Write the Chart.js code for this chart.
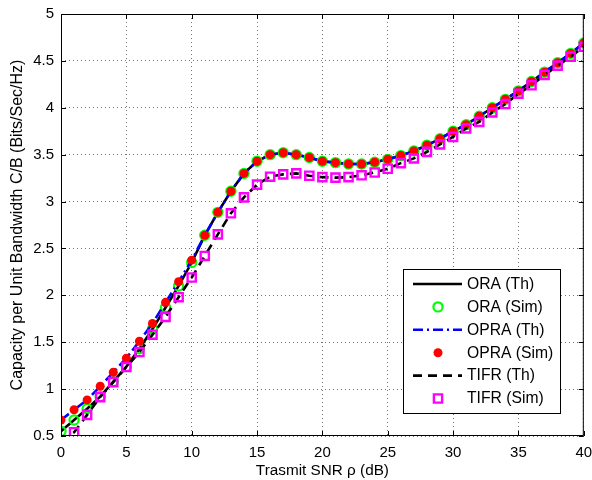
<!DOCTYPE html>
<html>
<head>
<meta charset="utf-8">
<script src="https://cdn.jsdelivr.net/npm/chart.js@4/dist/chart.umd.min.js"></script>
<style>
  html, body { margin: 0; padding: 0; background: #fff; }
  #wrap { width: 592px; height: 480px; }
</style>
</head>
<body>
<div id="wrap"><canvas id="chart" width="592" height="480"></canvas></div>
<script>
// transmit SNR (dB)
const snr = [0, 1, 2, 3, 4, 5, 6, 7, 8, 9, 10, 11, 12, 13, 14, 15, 16, 17, 18, 19, 20,
             21, 22, 23, 24, 25, 26, 27, 28, 29, 30, 31, 32, 33, 34, 35, 36, 37, 38, 39, 40];

// capacity values
const oraSim = [0.55, 0.67, 0.79, 0.92, 1.08, 1.24, 1.43, 1.64, 1.87, 2.10, 2.35,
                2.64, 2.885, 3.11, 3.30, 3.43, 3.50, 3.52, 3.50, 3.47, 3.43,
                3.415, 3.40, 3.40, 3.42, 3.45, 3.49, 3.54, 3.60, 3.67, 3.75,
                3.82, 3.91, 4.00, 4.09, 4.18, 4.28, 4.38, 4.48, 4.58, 4.69];
const opraSim = [0.67, 0.78, 0.885, 1.03, 1.18, 1.33, 1.51, 1.70, 1.925, 2.145, 2.375,
                 2.64, 2.885, 3.11, 3.30, 3.43, 3.50, 3.52, 3.50, 3.47, 3.43,
                 3.415, 3.40, 3.40, 3.42, 3.45, 3.49, 3.54, 3.60, 3.67, 3.75,
                 3.82, 3.91, 4.00, 4.09, 4.18, 4.28, 4.38, 4.48, 4.58, 4.69];
const tifrSim = [0.44, 0.54, 0.725, 0.915, 1.075, 1.235, 1.395, 1.58, 1.77, 1.98, 2.19,
                 2.42, 2.65, 2.875, 3.045, 3.18, 3.265, 3.29, 3.30, 3.275, 3.26,
                 3.255, 3.26, 3.28, 3.31, 3.35, 3.41, 3.46, 3.53, 3.61, 3.69,
                 3.78, 3.85, 3.95, 4.04, 4.15, 4.24, 4.35, 4.45, 4.545, 4.65];
// theory curves follow the simulated points
const oraTh = oraSim;
const opraTh = opraSim;
const tifrTh = tifrSim;

const xTicks = [0, 5, 10, 15, 20, 25, 30, 35, 40];
const yTicks = [0.5, 1, 1.5, 2, 2.5, 3, 3.5, 4, 4.5, 5];
const labels = ['ORA (Th)', 'ORA (Sim)', 'OPRA (Th)', 'OPRA (Sim)', 'TIFR (Th)', 'TIFR (Sim)'];

const FONT = "'Liberation Sans', Arial, Helvetica, sans-serif";

function pts(vals) {
    return snr.map((x, i) => ({ x: x, y: vals[i] }));
}

const lineSet = (label, vals, color, dash, order) => ({
    label: label, data: pts(vals), borderColor: color, borderWidth: 2.6,
    borderDash: dash, pointRadius: 0, fill: false, order: order
});
const markSet = (label, vals, style, radius, bw, color, fillColor, order) => ({
    label: label, data: pts(vals), showLine: false, pointStyle: style,
    pointRadius: radius, pointBorderWidth: bw, pointBorderColor: color,
    pointBackgroundColor: fillColor, borderColor: color, order: order
});

// MATLAB-like box with inward ticks
const framePlugin = {
    id: 'frame',
    afterDraw(chart) {
        const { ctx, chartArea: a, scales } = chart;
        ctx.save();
        ctx.strokeStyle = '#000';
        ctx.lineWidth = 1;
        ctx.strokeRect(a.left + 0.5, a.top + 0.5, a.width - 1, a.height - 1);
        ctx.beginPath();
        xTicks.forEach(v => {
            const px = Math.round(scales.x.getPixelForValue(v)) + 0.5;
            ctx.moveTo(px, a.bottom); ctx.lineTo(px, a.bottom - 5);
            ctx.moveTo(px, a.top); ctx.lineTo(px, a.top + 5);
        });
        yTicks.forEach(v => {
            const py = Math.round(scales.y.getPixelForValue(v)) + 0.5;
            ctx.moveTo(a.left, py); ctx.lineTo(a.left + 5, py);
            ctx.moveTo(a.right, py); ctx.lineTo(a.right - 5, py);
        });
        ctx.stroke();
        ctx.restore();
    }
};

// legend box inside the plot, lower right
const legendPlugin = {
    id: 'boxLegend',
    afterDraw(chart) {
        const ctx = chart.ctx;
        const bx = 403.5, by = 269.5, bw = 157, bh = 144;
        ctx.save();
        ctx.fillStyle = '#fff';
        ctx.fillRect(bx, by, bw, bh);
        ctx.strokeStyle = '#000';
        ctx.lineWidth = 1;
        ctx.strokeRect(bx, by, bw, bh);
        ctx.font = '15.7px ' + FONT;
        ctx.textBaseline = 'middle';
        chart.data.datasets.forEach((ds, i) => {
            const y = 284 + i * 22.9;
            const x0 = 413, x1 = 462, xm = 438;
            if (ds.showLine === false) {
                ctx.beginPath();
                ctx.lineWidth = ds.pointBorderWidth;
                ctx.strokeStyle = ds.pointBorderColor;
                ctx.fillStyle = ds.pointBackgroundColor;
                if (ds.pointStyle === 'rect') {
                    const s = ds.pointRadius * Math.SQRT1_2;
                    ctx.rect(xm - s, y - s, 2 * s, 2 * s);
                } else {
                    ctx.arc(xm, y, ds.pointRadius, 0, Math.PI * 2);
                }
                ctx.fill();
                if (ds.pointBorderWidth > 0) ctx.stroke();
            } else {
                ctx.beginPath();
                ctx.lineWidth = ds.borderWidth;
                ctx.strokeStyle = ds.borderColor;
                ctx.setLineDash(ds.borderDash || []);
                ctx.moveTo(x0, y); ctx.lineTo(x1, y);
                ctx.stroke();
                ctx.setLineDash([]);
            }
            ctx.fillStyle = '#000';
            ctx.fillText(ds.label, 467, y + 0.5);
        });
        ctx.restore();
    }
};

const chart = new Chart(document.getElementById('chart').getContext('2d'), {
    type: 'line',
    data: {
        datasets: [
            lineSet(labels[0], oraTh, '#000000', [], 5),
            markSet(labels[1], oraSim, 'circle', 4.6, 2.2, '#00ff00', 'rgba(0,0,0,0)', 4),
            lineSet(labels[2], opraTh, '#0000ff', [10, 4, 2, 4], 3),
            markSet(labels[3], opraSim, 'circle', 4.5, 0, '#ff0000', '#ff0000', 2),
            lineSet(labels[4], tifrTh, '#000000', [9, 6], 1),
            markSet(labels[5], tifrSim, 'rect', 5.8, 2.4, '#ff00ff', 'rgba(0,0,0,0)', 0)
        ]
    },
    options: {
        responsive: false,
        animation: false,
        events: [],
        layout: { padding: { top: 14, right: 7, left: 0, bottom: 0 } },
        plugins: { legend: { display: false }, tooltip: { enabled: false } },
        scales: {
            x: {
                type: 'linear', min: 0, max: 40,
                afterBuildTicks: s => { s.ticks = xTicks.map(v => ({ value: v })); },
                afterFit: s => { s.height = 44; s.paddingLeft = 0; s.paddingRight = 0; },
                ticks: { color: '#000', font: { family: FONT, size: 15 }, padding: 8, maxRotation: 0 },
                grid: { color: 'rgba(0,0,0,0.55)', drawTicks: false, lineWidth: 1 },
                border: { display: false, dash: [1, 3] },
                title: { display: true, text: 'Trasmit SNR ρ (dB)', color: '#000',
                         font: { family: FONT, size: 15.3 }, padding: { top: 0, bottom: 0 } }
            },
            y: {
                type: 'linear', min: 0.5, max: 5,
                afterBuildTicks: s => { s.ticks = yTicks.map(v => ({ value: v })); },
                afterFit: s => { s.width = 61; s.paddingTop = 0; s.paddingBottom = 0; },
                ticks: { color: '#000', font: { family: FONT, size: 15 }, padding: 7,
                         callback: v => String(v) },
                grid: { color: 'rgba(0,0,0,0.55)', drawTicks: false, lineWidth: 1 },
                border: { display: false, dash: [1, 3] },
                title: { display: true, text: 'Capacity per Unit Bandwidth C/B (Bits/Sec/Hz)', color: '#000',
                         font: { family: FONT, size: 16 }, padding: { top: 8, bottom: 0 } }
            }
        }
    },
    plugins: [framePlugin, legendPlugin]
});
</script>
</body>
</html>
